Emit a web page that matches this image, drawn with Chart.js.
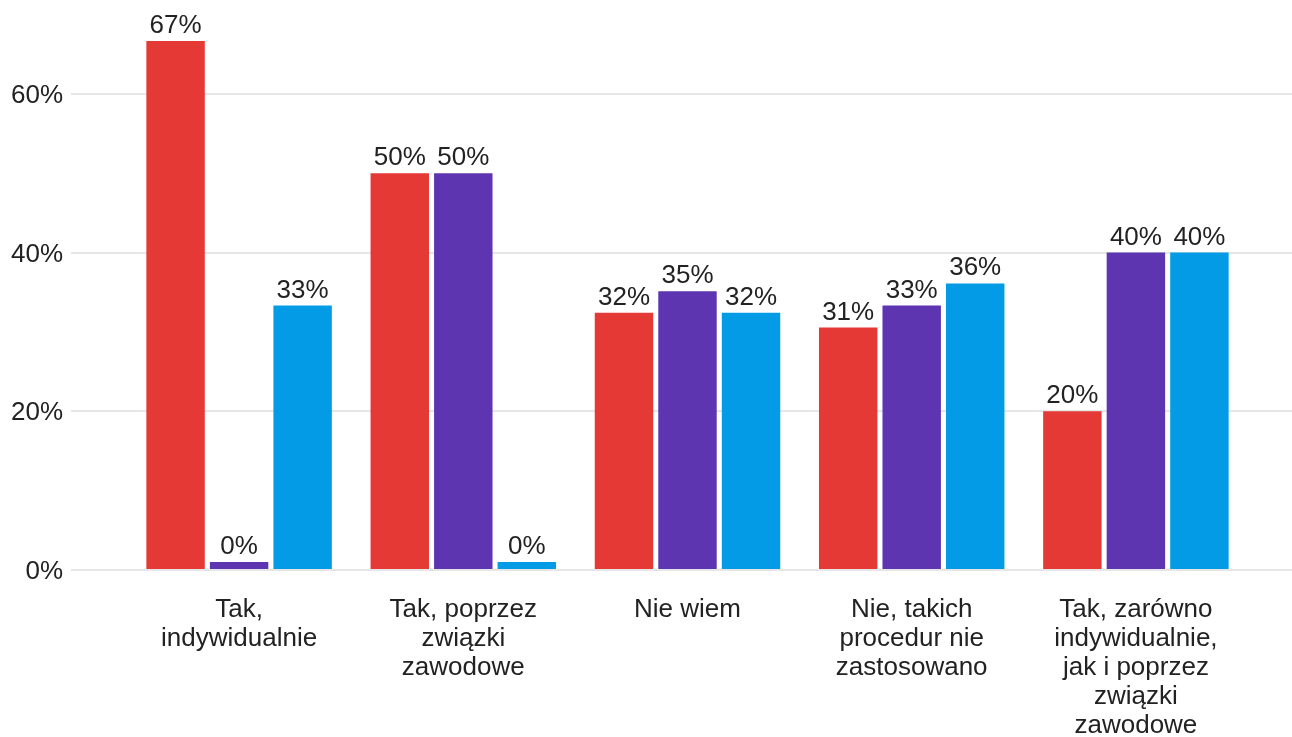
<!DOCTYPE html>
<html lang="pl">
<head>
    <meta charset="UTF-8">
    <title>Wykres</title>
    <style>
        html, body { margin: 0; padding: 0; background: #ffffff; }
        .wrap { width: 1292px; height: 737px; position: relative; }
    </style>
</head>
<body>
    <div class="wrap">
        <canvas id="wykres"></canvas>
    </div>

    <script src="https://cdn.jsdelivr.net/npm/chart.js"></script>

    <script>
        // dane (%)
        const kategorie = [
            ['Tak,', 'indywidualnie'],
            ['Tak, poprzez', 'związki', 'zawodowe'],
            'Nie wiem',
            ['Nie, takich', 'procedur nie', 'zastosowano'],
            ['Tak, zarówno', 'indywidualnie,', 'jak i poprzez', 'związki', 'zawodowe']
        ]
        const seriaCzerwona = [66.67, 50, 32.43, 30.56, 20]
        const seriaFioletowa = [0, 50, 35.14, 33.33, 40]
        const seriaNiebieska = [33.33, 0, 32.43, 36.11, 40]
        const kroki = [0, 20, 40, 60]

        const kolory = ['#e53935', '#5e35b1', '#039be5']
        const kolorTekstu = '#222222'
        const czcionka = { family: '"Liberation Sans", Arial, sans-serif', size: 26, lineHeight: 1.12 }

        const maksimum = Math.max(...seriaCzerwona, ...seriaFioletowa, ...seriaNiebieska)
        const tylkoKroki = axis => { axis.ticks = axis.ticks.filter(t => kroki.includes(t.value)) }

        // etykiety wartości nad słupkami
        const etykiety = {
            id: 'etykiety',
            afterDatasetsDraw(chart) {
                const ctx = chart.ctx
                ctx.save()
                ctx.font = '26px "Liberation Sans", Arial, sans-serif'
                ctx.fillStyle = kolorTekstu
                ctx.textAlign = 'center'
                ctx.textBaseline = 'alphabetic'
                chart.data.datasets.forEach((ds, i) => {
                    chart.getDatasetMeta(i).data.forEach((bar, j) => {
                        const top = Math.min(bar.y, bar.base)
                        ctx.fillText(Math.round(ds.data[j]) + '%', bar.x, top - 8)
                    })
                })
                ctx.restore()
            }
        }

        const ctx = document.querySelector('#wykres')
        const grafico = new Chart(ctx, {
            type: 'bar',
            data: {
                labels: kategorie,
                datasets: [
                    { data: seriaCzerwona, backgroundColor: kolory[0] },
                    { data: seriaFioletowa, backgroundColor: kolory[1] },
                    { data: seriaNiebieska, backgroundColor: kolory[2] }
                ]
            },
            options: {
                responsive: true,
                maintainAspectRatio: false,
                animation: false,
                layout: { padding: { left: 11, top: 41, right: 0, bottom: 0 } },
                datasets: {
                    bar: {
                        categoryPercentage: 0.85,
                        barPercentage: 0.92,
                        minBarLength: 8
                    }
                },
                plugins: {
                    legend: { display: false },
                    tooltip: { enabled: false }
                },
                scales: {
                    x: {
                        afterFit: s => { s.height = 167 },
                        grid: { display: false, drawTicks: false },
                        border: { display: false },
                        ticks: {
                            color: kolorTekstu,
                            font: czcionka,
                            padding: 25,
                            maxRotation: 0,
                            autoSkip: false
                        }
                    },
                    y: {
                        min: 0,
                        max: maksimum,
                        afterBuildTicks: tylkoKroki,
                        afterFit: s => { s.width = 116 },
                        border: { display: false },
                        grid: { color: '#e6e6e6', lineWidth: 2, drawTicks: true, tickLength: 56 },
                        ticks: {
                            stepSize: 20,
                            color: kolorTekstu,
                            font: czcionka,
                            padding: 8,
                            labelOffset: 2,
                            callback: v => v + '%'
                        }
                    },
                    y2: {
                        position: 'right',
                        min: 0,
                        max: maksimum,
                        afterBuildTicks: tylkoKroki,
                        afterFit: s => { s.width = 44 },
                        border: { display: false },
                        grid: { color: '#e6e6e6', lineWidth: 2, drawTicks: true, tickLength: 44, drawOnChartArea: false },
                        ticks: { stepSize: 20, display: false }
                    }
                }
            },
            plugins: [etykiety]
        })
    </script>
</body>
</html>
